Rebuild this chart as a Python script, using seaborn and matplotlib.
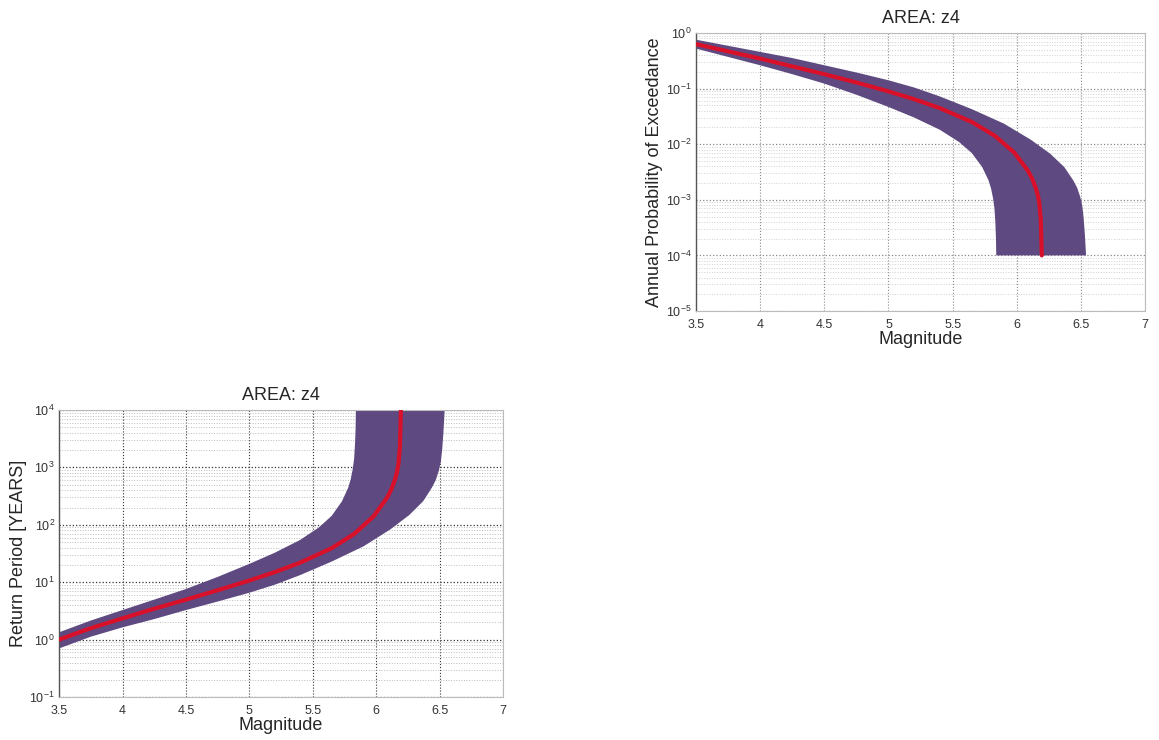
import numpy as np
import pandas as pd
import matplotlib
matplotlib.use("Agg")
import matplotlib.pyplot as plt
import seaborn as sns

# ---- data (log10 of annual probability of exceedance) ----
mag_center = [3.5, 3.75, 4.0, 4.25, 4.5, 4.75, 5.0, 5.2, 5.4, 5.65, 5.83, 5.98, 6.085,
              6.12, 6.15, 6.165, 6.175, 6.187, 6.195]
log_prob_center = [-0.20, -0.33, -0.46, -0.60, -0.74, -0.89, -1.05, -1.19, -1.35, -1.60,
                   -1.85, -2.15, -2.47, -2.62, -2.80, -2.93, -3.05, -3.35, -4.0]

mag_upper = [3.5, 3.75, 4.0, 4.25, 4.5, 4.75, 5.0, 5.2, 5.4, 5.65, 5.9, 6.11, 6.26, 6.37,
             6.44, 6.47, 6.495, 6.51, 6.52, 6.53, 6.54]
log_prob_upper = [-0.12, -0.23, -0.34, -0.45, -0.58, -0.71, -0.85, -0.98, -1.14, -1.37,
                  -1.63, -1.92, -2.17, -2.41, -2.65, -2.78, -2.95, -3.10, -3.30, -3.60, -4.0]

mag_lower = [3.5, 3.75, 4.0, 4.25, 4.5, 4.75, 5.0, 5.2, 5.4, 5.55, 5.65, 5.73, 5.78, 5.80,
             5.815, 5.826, 5.833, 5.838, 5.84]
log_prob_lower = [-0.28, -0.43, -0.58, -0.74, -0.91, -1.11, -1.33, -1.52, -1.74, -1.96,
                  -2.16, -2.41, -2.65, -2.80, -2.97, -3.15, -3.40, -3.70, -4.0]

title = "AREA: z4"
xlabel = "Magnitude"
ylabel_top = "Annual Probability of Exceedance"
ylabel_bottom = "Return Period [YEARS]"
xticks = [3.5, 4, 4.5, 5, 5.5, 6, 6.5, 7]
xtick_labels = ["3.5", "4", "4.5", "5", "5.5", "6", "6.5", "7"]

band_color = "#5e4a80"
line_color = "#d8102a"

sns.set_theme(style="white")
plt.rcParams["font.family"] = ["Liberation Sans", "DejaVu Sans"]

fig = plt.figure(figsize=(11.59, 7.40), dpi=100)
ax_top = fig.add_axes([0.6005, 0.5797, 0.3875, 0.3757])
ax_bot = fig.add_axes([0.051, 0.058, 0.383, 0.388])


def prob(logs):
    return [10.0 ** v for v in logs]


def return_period(p):
    # Poisson relation between annual exceedance probability and return period
    return -1.0 / np.log(1.0 - p)


def draw(ax, transform, ylim, ylabel, grid_major, grid_minor):
    up = [transform(v) for v in prob(log_prob_upper)]
    lo = [transform(v) for v in prob(log_prob_lower)]
    ce = [transform(v) for v in prob(log_prob_center)]
    poly_x = list(mag_upper) + list(mag_lower[::-1])
    poly_y = up + lo[::-1]
    ax.fill(poly_x, poly_y, color=band_color, lw=0, zorder=2)
    df = pd.DataFrame({"Magnitude": mag_center, "value": ce})
    sns.lineplot(data=df, x="Magnitude", y="value", ax=ax, color=line_color,
                 lw=3, zorder=3, sort=False)
    ax.set_yscale("log")
    ax.set_ylim(*ylim)
    ax.set_xlim(3.5, 7)
    ax.set_xticks(xticks)
    ax.set_xticklabels(xtick_labels)
    ax.set_title(title, fontsize=13, pad=7)
    ax.set_xlabel(xlabel, fontsize=13, labelpad=0)
    ax.set_ylabel(ylabel, fontsize=13, labelpad=2)
    ax.tick_params(axis="both", which="both", direction="in", labelsize=9,
                   length=3, colors="#333333")
    ax.tick_params(axis="x", pad=6)
    ax.tick_params(axis="y", pad=3)
    ax.tick_params(axis="y", which="minor", length=2)
    ax.xaxis.grid(True, which="major", linestyle=":", color=grid_major, lw=0.8)
    ax.yaxis.grid(True, which="major", linestyle=":", color=grid_major, lw=0.9)
    ax.yaxis.grid(True, which="minor", linestyle=":", color=grid_minor, lw=0.7)
    ax.set_axisbelow(True)
    for name, sp in ax.spines.items():
        sp.set_color("#bbbbbb")
        sp.set_linewidth(0.8)
    ax.spines["left"].set_color("#555555")
    ax.spines["left"].set_linewidth(1.0)


draw(ax_top, lambda p: p, (1e-5, 1), ylabel_top, "#888888", "#d0d0d0")
draw(ax_bot, return_period, (1e-1, 1e4), ylabel_bottom, "#333333", "#bbbbbb")

fig.savefig("out.png", dpi=100)
